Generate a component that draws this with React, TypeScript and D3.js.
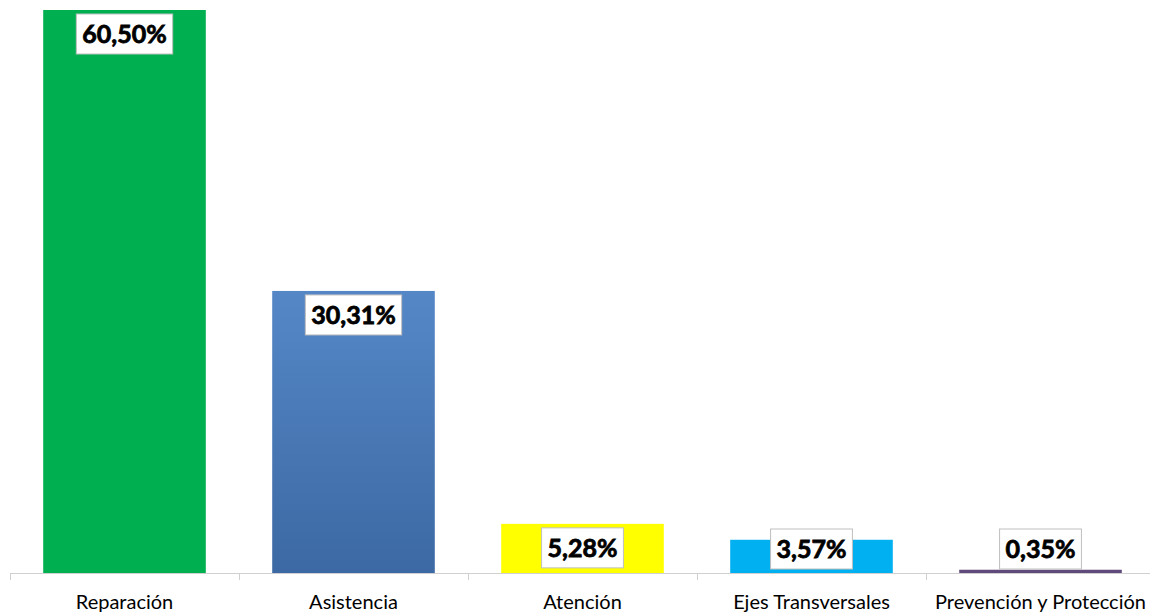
import { useMemo } from 'react';
import * as d3 from 'd3';

const categories = ['Reparación', 'Asistencia', 'Atención', 'Ejes Transversales', 'Prevención y Protección'];
const values = [60.5, 30.31, 5.28, 3.57, 0.35];
const labels = ['60,50%', '30,31%', '5,28%', '3,57%', '0,35%'];
const colors = ['#00B050', 'url(#blueGrad)', '#FFFF00', '#00B0F0', '#604A7B'];

const W = 1150;
const H = 614;
const margin = { top: 10, right: -5, bottom: 41, left: 10 };
const labelFont = 'bold 25px Lato, "Open Sans", sans-serif';

function textWidth(txt: string, font: string) {
  const ctx = document.createElement('canvas').getContext('2d');
  if (!ctx) return txt.length * 14;
  ctx.font = font;
  return ctx.measureText(txt).width;
}

export default function App() {
  const axisY = H - margin.bottom;

  const x = d3.scaleBand<string>()
    .domain(categories)
    .range([margin.left, W - margin.right])
    .paddingInner(0.29)
    .paddingOuter(0.145);

  const y = d3.scaleLinear()
    .domain([0, d3.max(values) || 1])
    .range([axisY, margin.top]);

  const step = x.step();
  const ticks = d3.range(categories.length + 1).map(i => margin.left + i * step);

  const widths = useMemo(() => labels.map(l => textWidth(l, labelFont)), []);

  return (
    <svg width={W} height={H} style={{ position: 'absolute', left: 0, top: 0, background: '#fff' }}>
      <defs>
        <linearGradient id="blueGrad" x1="0" y1="0" x2="0" y2="1">
          <stop offset="0%" stopColor="#5587C7" />
          <stop offset="100%" stopColor="#3C69A3" />
        </linearGradient>
      </defs>

      {/* bars */}
      {categories.map((c, i) => (
        <rect key={c} x={x(c)} y={y(values[i])} width={x.bandwidth()} height={axisY - y(values[i])} fill={colors[i]} />
      ))}

      {/* axis */}
      <line x1={margin.left} x2={W - margin.right} y1={axisY + 0.5} y2={axisY + 0.5} stroke="#D0D0D0" strokeWidth={1} />
      {ticks.map(t => (
        <line key={t} x1={Math.round(t) + 0.5} x2={Math.round(t) + 0.5} y1={axisY} y2={axisY + 7} stroke="#D0D0D0" strokeWidth={1} />
      ))}
      {categories.map(c => (
        <text key={c} x={(x(c) || 0) + x.bandwidth() / 2} y={axisY + 36} textAnchor="middle"
          style={{ font: '20px Lato, "Open Sans", sans-serif', fill: '#000' }}>{c}</text>
      ))}

      {/* data labels */}
      {categories.map((c, i) => {
        const cx = (x(c) || 0) + x.bandwidth() / 2;
        const bw = widths[i] + 12;
        const by = Math.min(y(values[i]) + 4, axisY - 44);
        return (
          <g key={c}>
            <rect x={cx - bw / 2} y={by} width={bw} height={40} fill="#fff" stroke="#BFBFBF" strokeWidth={1} />
            <text x={cx} y={by + 29} textAnchor="middle" stroke="#000" strokeWidth={0.8}
              style={{ font: labelFont, fill: '#000' }}>{labels[i]}</text>
          </g>
        );
      })}
    </svg>
  );
}
